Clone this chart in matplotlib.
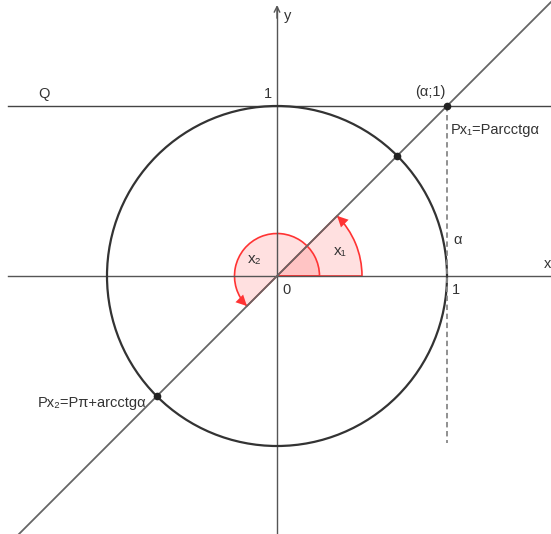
import matplotlib.pyplot as plt
from matplotlib.patches import Wedge, Circle
import numpy as np

plt.rcParams['font.family'] = ['Liberation Sans', 'DejaVu Sans']

# values (unit circle, line y = x)
alpha = 1.0                       # point (alpha; 1) on line Q
x1_deg = 45.0                     # arcctg(alpha)
x2_deg = 180.0 + x1_deg           # pi + arcctg(alpha)
dash_bottom = -0.98
line_ends = [-1.53, 1.61]

labels = ["Q", "(α;1)", "Px₁=Parcctgα", "Px₂=Pπ+arcctgα", "α", "x₁", "x₂", "0", "1", "1", "x", "y"]

fig = plt.figure(figsize=(5.51, 5.34), dpi=100)
ax = fig.add_axes([0, 0, 1, 1])
ax.set_xlim(-277 / 170, 274 / 170)
ax.set_ylim(-258 / 170, 276 / 170)
ax.set_aspect('equal')
ax.axis('off')

# angle sectors
red = '#ff3333'
ax.add_patch(Wedge((0, 0), 0.5, 0, x1_deg, facecolor=(1, 0, 0, 0.12), edgecolor=red, lw=1.2, zorder=1))
ax.add_patch(Wedge((0, 0), 0.25, 0, x2_deg, facecolor=(1, 0, 0, 0.12), edgecolor=red, lw=1.2, zorder=1))

def arc_arrow(r, deg):
	t = np.radians(deg)
	tip = np.array([r * np.cos(t), r * np.sin(t)])
	tang = np.array([-np.sin(t), np.cos(t)])
	ax.annotate('', xy=tip, xytext=tip - 0.07 * tang,
		arrowprops=dict(arrowstyle='-|>,head_length=0.6,head_width=0.3', color=red, lw=0,
			mutation_scale=13, shrinkA=0, shrinkB=0), zorder=2)

arc_arrow(0.5, x1_deg)
arc_arrow(0.25, x2_deg)

# axes
axc = '#555555'
ax.plot([-1.58, 1.61], [0, 0], color=axc, lw=1, zorder=3)
ax.plot([0, 0], [-1.52, 1.58], color=axc, lw=1, zorder=3)
ax.annotate('', xy=(0, 1.61), xytext=(0, 1.5),
	arrowprops=dict(arrowstyle='->', color=axc, lw=1), zorder=3)

# line Q (y = 1)
ax.plot([-1.58, 1.61], [1, 1], color='#444444', lw=1, zorder=3)

# unit circle
ax.add_patch(Circle((0, 0), 1, fill=False, edgecolor='#333333', lw=1.6, zorder=3))

# line y = x
ax.plot(line_ends, line_ends, color='#666666', lw=1.3, zorder=4)

# dashed line x = alpha
ax.plot([alpha, alpha], [1, dash_bottom], color='#888888', lw=1.3, ls=(0, (3, 2)), zorder=3)

# points
c = np.cos(np.radians(x1_deg))
ax.plot([alpha, c, -c], [1, c, -c], 'o', color='#222222', markersize=4.5, zorder=5)

fs = 10.5
tc = '#333333'
ax.text(-1.37, 1.03, labels[0], fontsize=fs, color=tc, ha='center', va='bottom')
ax.text(0.9, 1.04, labels[1], fontsize=fs, color=tc, ha='center', va='bottom')
ax.text(1.02, 0.86, labels[2], fontsize=fs, color=tc, ha='left', va='center')
ax.text(-1.41, -0.75, labels[3], fontsize=fs, color=tc, ha='left', va='center')
ax.text(1.04, 0.21, labels[4], fontsize=fs, color=tc, ha='left', va='center')
ax.text(0.37, 0.15, labels[5], fontsize=11, color=tc, ha='center', va='center')
ax.text(-0.13, 0.10, labels[6], fontsize=11, color=tc, ha='center', va='center')
ax.text(0.03, -0.04, labels[7], fontsize=fs, color=tc, ha='left', va='top')
ax.text(-0.03, 1.03, labels[8], fontsize=fs, color=tc, ha='right', va='bottom')
ax.text(1.03, -0.04, labels[9], fontsize=fs, color=tc, ha='left', va='top')
ax.text(1.59, 0.03, labels[10], fontsize=fs, color=tc, ha='center', va='bottom')
ax.text(0.04, 1.53, labels[11], fontsize=fs, color=tc, ha='left', va='center')

fig.savefig('out.png', dpi=100)
